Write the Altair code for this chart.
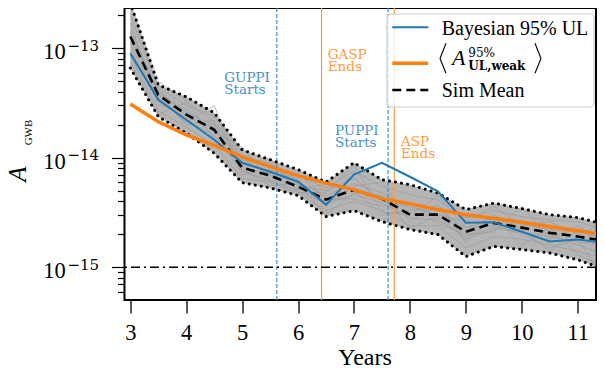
import altair as alt
import pandas as pd

# ---------------- data (amplitudes in units of 1e-15) ----------------
UNIT = 1e-15
years = [3.0, 3.5, 4.0, 4.5, 5.0, 5.5, 6.0, 6.5, 7.0, 7.5, 8.0, 8.5, 9.0, 9.5, 10.0, 10.5, 11.0, 11.5]

bayes_ul = [90, 33.8, 22.2, 14.6, 9.0, 7.45, 6.04, 3.73, 7.0, 8.96, 6.7, 4.93, 2.55, 2.57, 2.11, 1.72, 1.79, 1.67]
weak_ul = [30.9, 21.3, 16.2, 13.0, 10.2, 8.28, 6.86, 5.86, 5.11, 4.23, 3.81, 3.36, 3.02, 2.80, 2.57, 2.35, 2.15, 1.97]
sim_mean = [128, 37.5, 24.8, 18.0, 8.11, 6.86, 5.44, 4.14, 5.10, 4.23, 3.02, 3.02, 2.11, 2.54, 2.30, 2.06, 1.91, 1.73]
sim_upper = [260, 46.3, 36.0, 25.7, 11.8, 9.6, 7.78, 6.0, 9.0, 6.3, 5.68, 4.76, 3.36, 3.85, 3.43, 3.02, 2.84, 2.45]
sim_lower = [66, 23.7, 16.8, 11.0, 5.92, 5.3, 4.51, 2.9, 3.29, 2.61, 2.21, 1.99, 1.25, 1.55, 1.45, 1.35, 1.17, 0.95]

sim_run_a = [150, 40, 26, 20, 9.0, 7.5, 6.0, 4.5, 5.8, 4.8, 3.4, 3.3, 2.3, 2.8, 2.5, 2.2, 2.1, 1.9]
sim_run_b = [110, 33, 22, 16, 7.5, 6.2, 5.0, 3.8, 4.6, 3.9, 2.8, 2.7, 1.9, 2.3, 2.1, 1.9, 1.7, 1.6]
sim_run_c = [200, 44, 30, 24, 10.5, 8.5, 6.8, 5.3, 7.5, 5.5, 4.6, 4.1, 2.8, 3.3, 2.9, 2.7, 2.6, 2.2]
sim_run_d = [85, 27, 19, 13, 6.5, 6.0, 4.8, 3.3, 4.0, 3.3, 2.4, 2.4, 1.5, 1.9, 1.8, 1.6, 1.4, 1.2]
sim_run_e = [260, 50, 33, 21, 9.5, 9.0, 5.5, 5.0, 6.5, 4.0, 3.6, 3.0, 2.6, 3.6, 2.4, 2.6, 2.0, 2.5]
sim_run_f = [95, 35, 21, 30, 7.0, 7.8, 6.4, 3.6, 5.5, 6.0, 2.6, 3.8, 1.7, 2.9, 1.6, 2.3, 1.3, 1.0]
sim_run_g = [170, 30, 28, 17, 12.5, 6.0, 7.2, 4.2, 4.2, 3.6, 3.9, 2.5, 2.0, 2.1, 3.6, 1.8, 2.4, 1.5]
sim_run_h = [120, 42, 24, 19, 8.5, 10, 4.8, 4.8, 8.5, 3.2, 3.0, 4.5, 2.3, 2.4, 2.0, 1.5, 1.8, 0.75]
sim_run_i = [75, 25, 32, 15, 7.8, 5.6, 5.8, 3.0, 4.8, 4.5, 2.3, 2.9, 1.8, 2.2, 2.7, 2.0, 1.6, 1.3]
sim_run_j = [140, 38, 20, 22, 9.8, 7.0, 5.2, 5.7, 5.0, 3.0, 3.3, 3.6, 2.1, 3.0, 2.2, 1.4, 2.2, 1.8]
sim_runs = [sim_run_a, sim_run_b, sim_run_c, sim_run_d, sim_run_e,
            sim_run_f, sim_run_g, sim_run_h, sim_run_i, sim_run_j]

start_names = ["GUPPI\nStarts", "PUPPI\nStarts"]
start_years = [5.62, 7.61]
start_label_x = [4.68, 6.66]
start_label_y = [49.6, 16.2]
end_names = ["GASP\nEnds", "ASP\nEnds"]
end_years = [6.42, 7.72]
end_label_x = [6.53, 7.84]
end_label_y = [79.9, 12.9]

threshold = 1.0  # 1e-15
major_exps = [-13, -14, -15]
x_ticks = [3, 4, 5, 6, 7, 8, 9, 10, 11]

# ---------------- tables ----------------
BLUE = "#1f77b4"
ORANGE = "#ff7f0e"
SERIF = "Liberation Serif"

main = pd.DataFrame({
    "year": years,
    "bayes": [v * UNIT for v in bayes_ul],
    "weak": [v * UNIT for v in weak_ul],
    "mean": [v * UNIT for v in sim_mean],
    "upper": [v * UNIT for v in sim_upper],
    "lower": [v * UNIT for v in sim_lower],
})
runs = pd.DataFrame([
    {"run": i, "year": y, "value": v * UNIT}
    for i, r in enumerate(sim_runs) for y, v in zip(years, r)
])
bounds = pd.concat([
    pd.DataFrame({"bound": "upper", "year": years, "value": [v * UNIT for v in sim_upper]}),
    pd.DataFrame({"bound": "lower", "year": years, "value": [v * UNIT for v in sim_lower]}),
])
starts = pd.DataFrame({"year": start_years, "lx": start_label_x,
                       "ly": [v * UNIT for v in start_label_y], "text": start_names})
ends = pd.DataFrame({"year": end_years, "lx": end_label_x,
                     "ly": [v * UNIT for v in end_label_y], "text": end_names})
ticks_df = pd.DataFrame({"value": [10.0 ** e for e in major_exps],
                         "exp": ["\u2212" + str(-e) for e in major_exps]})
one = pd.DataFrame({"a": [0]})

# ---------------- scales / axes ----------------
xscale = alt.Scale(domain=[2.896, 11.328], nice=False, zero=False)
yscale = alt.Scale(type="log", domain=[5.02e-16, 2.33e-13], nice=False)

minor_vals = []
for e in [-16, -15, -14, -13]:
    for m in range(1, 10):
        v = m * 10.0 ** e
        if 5.02e-16 <= v <= 2.33e-13:
            minor_vals.append(v)

xaxis = alt.Axis(values=x_ticks, tickSize=13, tickWidth=1.3, tickColor="black",
                 labelFont=SERIF, labelFontSize=22.5, labelColor="black",
                 labelPadding=8, title=None, domain=False, grid=False)
yaxis = alt.Axis(values=minor_vals, labels=False, title=None, domain=False, grid=False,
                 tickColor="black", tickWidth=1.2,
                 tickSize={"condition": {"test": "abs(log(datum.value)/LN10 - round(log(datum.value)/LN10)) < 0.001",
                                         "value": 13}, "value": 7})


def X(field):
    return alt.X(f"{field}:Q", scale=xscale, axis=xaxis)


def Y(field):
    return alt.Y(f"{field}:Q", scale=yscale, axis=yaxis)


base = alt.Chart(main)

band = base.mark_area(color="#9c9c9c", opacity=0.75, clip=True).encode(
    x=X("year"), y=Y("lower"), y2="upper:Q")
run_lines = alt.Chart(runs).mark_line(color="#979797", strokeWidth=0.8, opacity=0.7, clip=True).encode(
    x=X("year"), y=Y("value"), detail="run:N")
vstart = alt.Chart(starts).mark_rule(color="#4a90c8", strokeDash=[4, 2], strokeWidth=1.2).encode(x=X("year"))
vend = alt.Chart(ends).mark_rule(color="#ff9a3c", strokeWidth=1.2).encode(x=X("year"))
hline = alt.Chart(pd.DataFrame({"value": [threshold * UNIT]})).mark_rule(
    color="black", strokeDash=[9, 4, 2, 4], strokeWidth=1.5).encode(y=Y("value"))
dotted = alt.Chart(bounds).mark_line(color="black", strokeDash=[0.1, 6], strokeCap="round",
                                     strokeWidth=3, clip=True).encode(
    x=X("year"), y=Y("value"), detail="bound:N")
mean_line = base.mark_line(color="black", strokeDash=[9, 5], strokeWidth=2.6, clip=True).encode(
    x=X("year"), y=Y("mean"))
bayes_line = base.mark_line(color=BLUE, strokeWidth=2, clip=True).encode(x=X("year"), y=Y("bayes"))
weak_line = base.mark_line(color=ORANGE, strokeWidth=3.5, clip=True).encode(x=X("year"), y=Y("weak"))

ANN_FONT = "DejaVu Serif"
start_txt = alt.Chart(starts).mark_text(align="left", baseline="alphabetic", lineBreak="\n",
                                        lineHeight=12.5, font=ANN_FONT, fontSize=13.5, color="#4a90c8").encode(
    x=X("lx"), y=Y("ly"), text="text:N")
end_txt = alt.Chart(ends).mark_text(align="left", baseline="alphabetic", lineBreak="\n",
                                    lineHeight=12.5, font=ANN_FONT, fontSize=13.5, color="#ff9a3c").encode(
    x=X("lx"), y=Y("ly"), text="text:N")

# y tick labels 10^{-n}
ylab10 = alt.Chart(ticks_df).mark_text(align="left", baseline="alphabetic", dy=11,
                                       font=SERIF, fontSize=22.5, color="black").encode(
    x=alt.value(-81.2), y=Y("value"), text=alt.value("10"))
ylabexp = alt.Chart(ticks_df).mark_text(align="left", baseline="alphabetic", dy=2.4,
                                        font="DejaVu Serif", fontSize=15, color="black").encode(
    x=alt.value(-57), y=Y("value"), text="exp:N")

# axis titles
ytitle_a = alt.Chart(one).mark_text(align="center", baseline="alphabetic", font=SERIF,
                                    fontStyle="italic", fontSize=25, color="black").encode(
    x=alt.value(-98.5), y=alt.value(166), text=alt.value("A"), angle=alt.value(270))
ytitle_sub = alt.Chart(one).mark_text(align="center", baseline="alphabetic", font=SERIF,
                                      fontSize=11, color="black").encode(
    x=alt.value(-92.3), y=alt.value(124.5), text=alt.value("GWB"), angle=alt.value(270))
xtitle = alt.Chart(one).mark_text(align="center", baseline="alphabetic", font=SERIF,
                                  fontSize=24, color="black").encode(
    x=alt.value(240.5), y=alt.value(357), text=alt.value("Years"))

# legend (drawn by hand because of the sub/superscripts)
leg_box = alt.Chart(one).mark_rect(cornerRadius=4, fill="white", fillOpacity=0.8,
                                   stroke="#cccccc", strokeWidth=1.2).encode(
    x=alt.value(262.5), x2=alt.value(469.5), y=alt.value(6), y2=alt.value(99))
leg_blue = alt.Chart(one).mark_rule(color=BLUE, strokeWidth=2).encode(
    x=alt.value(267.8), x2=alt.value(303.8), y=alt.value(19.3))
leg_orange = alt.Chart(one).mark_rule(color=ORANGE, strokeWidth=3.5).encode(
    x=alt.value(267.8), x2=alt.value(303.8), y=alt.value(55.3))
leg_black = alt.Chart(one).mark_rule(color="black", strokeWidth=2.6, strokeDash=[9, 5]).encode(
    x=alt.value(267.8), x2=alt.value(303.8), y=alt.value(82))
leg_t1 = alt.Chart(one).mark_text(align="left", baseline="middle", font=SERIF, fontSize=20,
                                  color="black").encode(
    x=alt.value(317.2), y=alt.value(21), text=alt.value("Bayesian 95% UL"))
leg_t3 = alt.Chart(one).mark_text(align="left", baseline="middle", font=SERIF, fontSize=20,
                                  color="black").encode(
    x=alt.value(317.2), y=alt.value(82.7), text=alt.value("Sim Mean"))
leg_A = alt.Chart(one).mark_text(align="left", baseline="alphabetic", font=SERIF, fontStyle="italic",
                                 fontSize=22, color="black").encode(
    x=alt.value(327.5), y=alt.value(57), text=alt.value("A"))
leg_sup = alt.Chart(one).mark_text(align="left", baseline="alphabetic", font="DejaVu Serif",
                                   fontSize=12, color="black").encode(
    x=alt.value(343.8), y=alt.value(49.3), text=alt.value("95%"))
leg_sub = alt.Chart(one).mark_text(align="left", baseline="alphabetic", font="DejaVu Serif",
                                   fontSize=12, fontWeight="bold", color="black").encode(
    x=alt.value(343.8), y=alt.value(62), text=alt.value("UL,weak"))
bk = dict(color="black", strokeWidth=1.1)
br1 = alt.Chart(one).mark_rule(**bk).encode(x=alt.value(321.5), x2=alt.value(315.5), y=alt.value(35.3), y2=alt.value(50.5))
br2 = alt.Chart(one).mark_rule(**bk).encode(x=alt.value(315.5), x2=alt.value(321.5), y=alt.value(50.5), y2=alt.value(65.3))
br3 = alt.Chart(one).mark_rule(**bk).encode(x=alt.value(410.5), x2=alt.value(416.5), y=alt.value(35.3), y2=alt.value(50.5))
br4 = alt.Chart(one).mark_rule(**bk).encode(x=alt.value(416.5), x2=alt.value(410.5), y=alt.value(50.5), y2=alt.value(65.3))

chart = alt.layer(
    band, run_lines, vstart, vend, hline, dotted, mean_line, bayes_line, weak_line,
    start_txt, end_txt, ylab10, ylabexp, ytitle_a, ytitle_sub, xtitle,
    leg_box, leg_blue, leg_orange, leg_black, leg_t1, leg_t3, leg_A, leg_sup, leg_sub,
    br1, br2, br3, br4,
).properties(
    width=471.5, height=292,
    autosize=alt.AutoSizeParams(type="none"),
    padding={"left": 116.5, "top": 0, "right": 1, "bottom": 66},
).configure_view(
    stroke="black", strokeWidth=2
).configure_axis(grid=False, domain=False)

chart.save("out.html", embed_options={"renderer": "svg", "actions": False})
